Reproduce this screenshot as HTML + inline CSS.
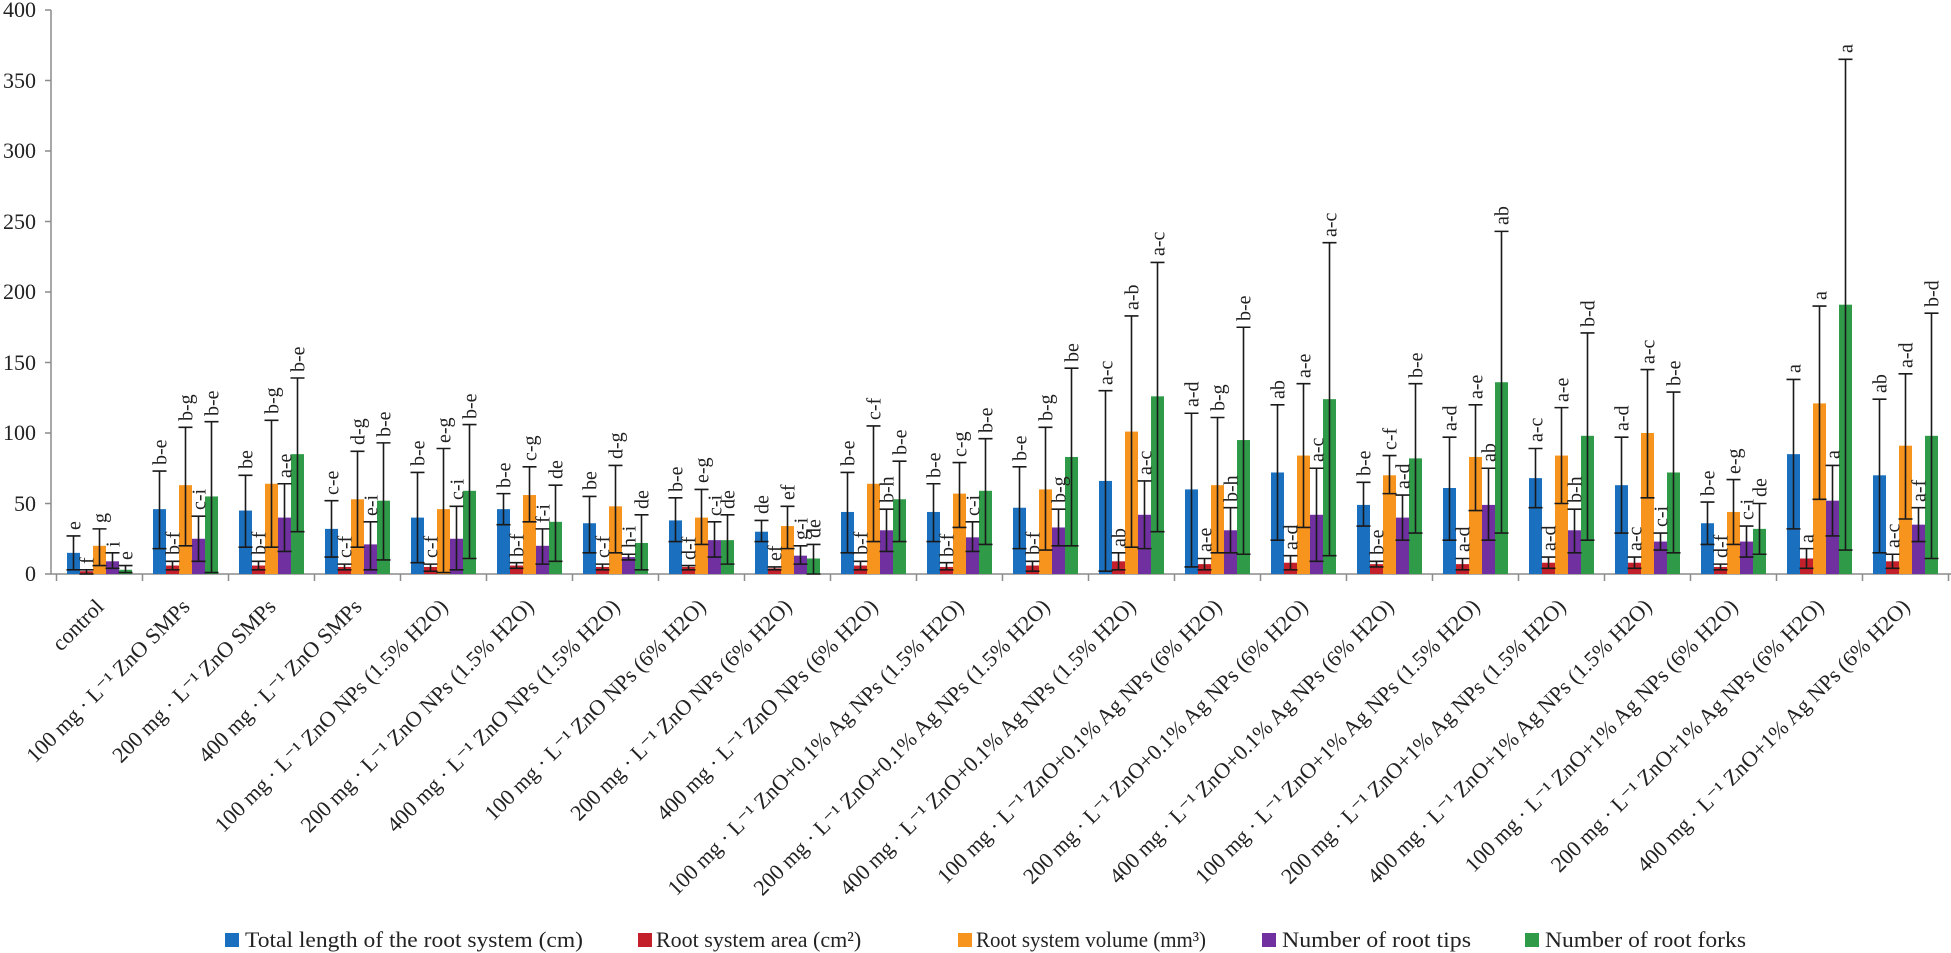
<!DOCTYPE html>
<html><head><meta charset="utf-8"><style>
html,body{margin:0;padding:0;background:#fff;}
svg{display:block;font-family:"Liberation Serif",serif;}
.b{fill:#1a70bf}.r{fill:#c4202b}.o{fill:#f7941d}.p{fill:#7030a0}.g{fill:#2f9a47}
.e{fill:none;stroke:#1a1a1a;stroke-width:1.6;vector-effect:non-scaling-stroke}
.l{font-size:20px;fill:#222}
.c{font-size:22px;fill:#222}
</style></head><body>
<svg width="1951" height="953" viewBox="0 0 1951 953" xmlns="http://www.w3.org/2000/svg">
<!-- axes -->
<g stroke="#8c8c8c" stroke-width="1.5" fill="none">
<path d="M51 10V574H1951"/>
<path d="M45 10H51M45 80.5H51M45 151H51M45 221.5H51M45 292H51M45 362.5H51M45 433H51M45 503.5H51M45 574H51"/>
<path d="M56.5 574v7M142.5 574v7M228.5 574v7M314.5 574v7M400.5 574v7M486.5 574v7M572.5 574v7M658.5 574v7M744.5 574v7M830.5 574v7M916.5 574v7M1002.5 574v7M1088.5 574v7M1174.5 574v7M1260.5 574v7M1346.5 574v7M1432.5 574v7M1518.5 574v7M1604.5 574v7M1690.5 574v7M1776.5 574v7M1862.5 574v7M1948.5 574v7"/>
</g>
<g class="c" text-anchor="end">
<text x="36" y="17">400</text><text x="36" y="88">350</text><text x="36" y="158">300</text><text x="36" y="229">250</text><text x="36" y="299">200</text><text x="36" y="370">150</text><text x="36" y="440">100</text><text x="36" y="511">50</text><text x="36" y="581">0</text>
</g>

<!-- bars: each group translate(center,574) scale(1,-1.41) -->
<g transform="translate(99.5,574) scale(1,-1.41)"><rect class="b" x="-32.5" y="0" width="13" height="15"/><rect class="r" x="-19.5" y="0" width="13" height="2"/><rect class="o" x="-6.5" y="0" width="13" height="20"/><rect class="p" x="6.5" y="0" width="13" height="9"/><rect class="g" x="19.5" y="0" width="13" height="3"/><path class="e" d="M-26 3V27M-33 3H-19M-33 27H-19M-13 0V3M-20 0H-6M-20 3H-6M0 6V32M-7 6H7M-7 32H7M13 4V15M6 4H20M6 15H20M26 1V6M19 1H33M19 6H33"/></g>
<g transform="translate(185.5,574) scale(1,-1.41)"><rect class="b" x="-32.5" y="0" width="13" height="46"/><rect class="r" x="-19.5" y="0" width="13" height="6"/><rect class="o" x="-6.5" y="0" width="13" height="63"/><rect class="p" x="6.5" y="0" width="13" height="25"/><rect class="g" x="19.5" y="0" width="13" height="55"/><path class="e" d="M-26 18V73M-33 18H-19M-33 73H-19M-13 3V9M-20 3H-6M-20 9H-6M0 20V104M-7 20H7M-7 104H7M13 9V41M6 9H20M6 41H20M26 1V108M19 1H33M19 108H33"/></g>
<g transform="translate(271.5,574) scale(1,-1.41)"><rect class="b" x="-32.5" y="0" width="13" height="45"/><rect class="r" x="-19.5" y="0" width="13" height="6"/><rect class="o" x="-6.5" y="0" width="13" height="64"/><rect class="p" x="6.5" y="0" width="13" height="40"/><rect class="g" x="19.5" y="0" width="13" height="85"/><path class="e" d="M-26 19V70M-33 19H-19M-33 70H-19M-13 3V9M-20 3H-6M-20 9H-6M0 19V109M-7 19H7M-7 109H7M13 16V64M6 16H20M6 64H20M26 30V139M19 30H33M19 139H33"/></g>
<g transform="translate(357.5,574) scale(1,-1.41)"><rect class="b" x="-32.5" y="0" width="13" height="32"/><rect class="r" x="-19.5" y="0" width="13" height="5"/><rect class="o" x="-6.5" y="0" width="13" height="53"/><rect class="p" x="6.5" y="0" width="13" height="21"/><rect class="g" x="19.5" y="0" width="13" height="52"/><path class="e" d="M-26 12V52M-33 12H-19M-33 52H-19M-13 3V7M-20 3H-6M-20 7H-6M0 19V87M-7 19H7M-7 87H7M13 3V37M6 3H20M6 37H20M26 10V93M19 10H33M19 93H33"/></g>
<g transform="translate(443.5,574) scale(1,-1.41)"><rect class="b" x="-32.5" y="0" width="13" height="40"/><rect class="r" x="-19.5" y="0" width="13" height="5"/><rect class="o" x="-6.5" y="0" width="13" height="46"/><rect class="p" x="6.5" y="0" width="13" height="25"/><rect class="g" x="19.5" y="0" width="13" height="59"/><path class="e" d="M-26 8V72M-33 8H-19M-33 72H-19M-13 2V7M-20 2H-6M-20 7H-6M0 1V89M-7 1H7M-7 89H7M13 3V48M6 3H20M6 48H20M26 11V106M19 11H33M19 106H33"/></g>
<g transform="translate(529.5,574) scale(1,-1.41)"><rect class="b" x="-32.5" y="0" width="13" height="46"/><rect class="r" x="-19.5" y="0" width="13" height="6"/><rect class="o" x="-6.5" y="0" width="13" height="56"/><rect class="p" x="6.5" y="0" width="13" height="20"/><rect class="g" x="19.5" y="0" width="13" height="37"/><path class="e" d="M-26 35V57M-33 35H-19M-33 57H-19M-13 4V8M-20 4H-6M-20 8H-6M0 37V76M-7 37H7M-7 76H7M13 7V32M6 7H20M6 32H20M26 9V63M19 9H33M19 63H33"/></g>
<g transform="translate(615.5,574) scale(1,-1.41)"><rect class="b" x="-32.5" y="0" width="13" height="36"/><rect class="r" x="-19.5" y="0" width="13" height="5"/><rect class="o" x="-6.5" y="0" width="13" height="48"/><rect class="p" x="6.5" y="0" width="13" height="12"/><rect class="g" x="19.5" y="0" width="13" height="22"/><path class="e" d="M-26 15V55M-33 15H-19M-33 55H-19M-13 3V7M-20 3H-6M-20 7H-6M0 15V77M-7 15H7M-7 77H7M13 10V14M6 10H20M6 14H20M26 3V42M19 3H33M19 42H33"/></g>
<g transform="translate(701.5,574) scale(1,-1.41)"><rect class="b" x="-32.5" y="0" width="13" height="38"/><rect class="r" x="-19.5" y="0" width="13" height="5"/><rect class="o" x="-6.5" y="0" width="13" height="40"/><rect class="p" x="6.5" y="0" width="13" height="24"/><rect class="g" x="19.5" y="0" width="13" height="24"/><path class="e" d="M-26 23V54M-33 23H-19M-33 54H-19M-13 3V6M-20 3H-6M-20 6H-6M0 21V60M-7 21H7M-7 60H7M13 12V37M6 12H20M6 37H20M26 7V42M19 7H33M19 42H33"/></g>
<g transform="translate(787.5,574) scale(1,-1.41)"><rect class="b" x="-32.5" y="0" width="13" height="30"/><rect class="r" x="-19.5" y="0" width="13" height="4"/><rect class="o" x="-6.5" y="0" width="13" height="34"/><rect class="p" x="6.5" y="0" width="13" height="13"/><rect class="g" x="19.5" y="0" width="13" height="11"/><path class="e" d="M-26 23V38M-33 23H-19M-33 38H-19M-13 3V5M-20 3H-6M-20 5H-6M0 18V48M-7 18H7M-7 48H7M13 7V20M6 7H20M6 20H20M26 0V21M19 0H33M19 21H33"/></g>
<g transform="translate(873.5,574) scale(1,-1.41)"><rect class="b" x="-32.5" y="0" width="13" height="44"/><rect class="r" x="-19.5" y="0" width="13" height="6"/><rect class="o" x="-6.5" y="0" width="13" height="64"/><rect class="p" x="6.5" y="0" width="13" height="31"/><rect class="g" x="19.5" y="0" width="13" height="53"/><path class="e" d="M-26 15V72M-33 15H-19M-33 72H-19M-13 3V9M-20 3H-6M-20 9H-6M0 23V105M-7 23H7M-7 105H7M13 16V46M6 16H20M6 46H20M26 23V80M19 23H33M19 80H33"/></g>
<g transform="translate(959.5,574) scale(1,-1.41)"><rect class="b" x="-32.5" y="0" width="13" height="44"/><rect class="r" x="-19.5" y="0" width="13" height="5"/><rect class="o" x="-6.5" y="0" width="13" height="57"/><rect class="p" x="6.5" y="0" width="13" height="26"/><rect class="g" x="19.5" y="0" width="13" height="59"/><path class="e" d="M-26 23V64M-33 23H-19M-33 64H-19M-13 3V8M-20 3H-6M-20 8H-6M0 33V79M-7 33H7M-7 79H7M13 16V37M6 16H20M6 37H20M26 21V96M19 21H33M19 96H33"/></g>
<g transform="translate(1045.5,574) scale(1,-1.41)"><rect class="b" x="-32.5" y="0" width="13" height="47"/><rect class="r" x="-19.5" y="0" width="13" height="6"/><rect class="o" x="-6.5" y="0" width="13" height="60"/><rect class="p" x="6.5" y="0" width="13" height="33"/><rect class="g" x="19.5" y="0" width="13" height="83"/><path class="e" d="M-26 18V76M-33 18H-19M-33 76H-19M-13 2V9M-20 2H-6M-20 9H-6M0 17V104M-7 17H7M-7 104H7M13 20V46M6 20H20M6 46H20M26 20V146M19 20H33M19 146H33"/></g>
<g transform="translate(1131.5,574) scale(1,-1.41)"><rect class="b" x="-32.5" y="0" width="13" height="66"/><rect class="r" x="-19.5" y="0" width="13" height="9"/><rect class="o" x="-6.5" y="0" width="13" height="101"/><rect class="p" x="6.5" y="0" width="13" height="42"/><rect class="g" x="19.5" y="0" width="13" height="126"/><path class="e" d="M-26 2V130M-33 2H-19M-33 130H-19M-13 3V15M-20 3H-6M-20 15H-6M0 19V183M-7 19H7M-7 183H7M13 18V66M6 18H20M6 66H20M26 30V221M19 30H33M19 221H33"/></g>
<g transform="translate(1217.5,574) scale(1,-1.41)"><rect class="b" x="-32.5" y="0" width="13" height="60"/><rect class="r" x="-19.5" y="0" width="13" height="7"/><rect class="o" x="-6.5" y="0" width="13" height="63"/><rect class="p" x="6.5" y="0" width="13" height="31"/><rect class="g" x="19.5" y="0" width="13" height="95"/><path class="e" d="M-26 5V114M-33 5H-19M-33 114H-19M-13 3V11M-20 3H-6M-20 11H-6M0 15V111M-7 15H7M-7 111H7M13 15V47M6 15H20M6 47H20M26 14V175M19 14H33M19 175H33"/></g>
<g transform="translate(1303.5,574) scale(1,-1.41)"><rect class="b" x="-32.5" y="0" width="13" height="72"/><rect class="r" x="-19.5" y="0" width="13" height="8"/><rect class="o" x="-6.5" y="0" width="13" height="84"/><rect class="p" x="6.5" y="0" width="13" height="42"/><rect class="g" x="19.5" y="0" width="13" height="124"/><path class="e" d="M-26 24V120M-33 24H-19M-33 120H-19M-13 3V13M-20 3H-6M-20 13H-6M0 33V135M-7 33H7M-7 135H7M13 9V75M6 9H20M6 75H20M26 13V235M19 13H33M19 235H33"/></g>
<g transform="translate(1389.5,574) scale(1,-1.41)"><rect class="b" x="-32.5" y="0" width="13" height="49"/><rect class="r" x="-19.5" y="0" width="13" height="7"/><rect class="o" x="-6.5" y="0" width="13" height="70"/><rect class="p" x="6.5" y="0" width="13" height="40"/><rect class="g" x="19.5" y="0" width="13" height="82"/><path class="e" d="M-26 34V65M-33 34H-19M-33 65H-19M-13 5V9M-20 5H-6M-20 9H-6M0 57V84M-7 57H7M-7 84H7M13 24V56M6 24H20M6 56H20M26 29V135M19 29H33M19 135H33"/></g>
<g transform="translate(1475.5,574) scale(1,-1.41)"><rect class="b" x="-32.5" y="0" width="13" height="61"/><rect class="r" x="-19.5" y="0" width="13" height="7"/><rect class="o" x="-6.5" y="0" width="13" height="83"/><rect class="p" x="6.5" y="0" width="13" height="49"/><rect class="g" x="19.5" y="0" width="13" height="136"/><path class="e" d="M-26 24V97M-33 24H-19M-33 97H-19M-13 3V11M-20 3H-6M-20 11H-6M0 45V120M-7 45H7M-7 120H7M13 24V75M6 24H20M6 75H20M26 29V243M19 29H33M19 243H33"/></g>
<g transform="translate(1561.5,574) scale(1,-1.41)"><rect class="b" x="-32.5" y="0" width="13" height="68"/><rect class="r" x="-19.5" y="0" width="13" height="8"/><rect class="o" x="-6.5" y="0" width="13" height="84"/><rect class="p" x="6.5" y="0" width="13" height="31"/><rect class="g" x="19.5" y="0" width="13" height="98"/><path class="e" d="M-26 47V89M-33 47H-19M-33 89H-19M-13 4V12M-20 4H-6M-20 12H-6M0 50V118M-7 50H7M-7 118H7M13 15V46M6 15H20M6 46H20M26 24V171M19 24H33M19 171H33"/></g>
<g transform="translate(1647.5,574) scale(1,-1.41)"><rect class="b" x="-32.5" y="0" width="13" height="63"/><rect class="r" x="-19.5" y="0" width="13" height="8"/><rect class="o" x="-6.5" y="0" width="13" height="100"/><rect class="p" x="6.5" y="0" width="13" height="23"/><rect class="g" x="19.5" y="0" width="13" height="72"/><path class="e" d="M-26 29V97M-33 29H-19M-33 97H-19M-13 4V12M-20 4H-6M-20 12H-6M0 54V145M-7 54H7M-7 145H7M13 17V29M6 17H20M6 29H20M26 15V129M19 15H33M19 129H33"/></g>
<g transform="translate(1733.5,574) scale(1,-1.41)"><rect class="b" x="-32.5" y="0" width="13" height="36"/><rect class="r" x="-19.5" y="0" width="13" height="5"/><rect class="o" x="-6.5" y="0" width="13" height="44"/><rect class="p" x="6.5" y="0" width="13" height="23"/><rect class="g" x="19.5" y="0" width="13" height="32"/><path class="e" d="M-26 21V51M-33 21H-19M-33 51H-19M-13 3V7M-20 3H-6M-20 7H-6M0 21V67M-7 21H7M-7 67H7M13 12V34M6 12H20M6 34H20M26 14V50M19 14H33M19 50H33"/></g>
<g transform="translate(1819.5,574) scale(1,-1.41)"><rect class="b" x="-32.5" y="0" width="13" height="85"/><rect class="r" x="-19.5" y="0" width="13" height="11"/><rect class="o" x="-6.5" y="0" width="13" height="121"/><rect class="p" x="6.5" y="0" width="13" height="52"/><rect class="g" x="19.5" y="0" width="13" height="191"/><path class="e" d="M-26 32V138M-33 32H-19M-33 138H-19M-13 4V18M-20 4H-6M-20 18H-6M0 53V190M-7 53H7M-7 190H7M13 27V77M6 27H20M6 77H20M26 17V365M19 17H33M19 365H33"/></g>
<g transform="translate(1905.5,574) scale(1,-1.41)"><rect class="b" x="-32.5" y="0" width="13" height="70"/><rect class="r" x="-19.5" y="0" width="13" height="9"/><rect class="o" x="-6.5" y="0" width="13" height="91"/><rect class="p" x="6.5" y="0" width="13" height="35"/><rect class="g" x="19.5" y="0" width="13" height="98"/><path class="e" d="M-26 15V124M-33 15H-19M-33 124H-19M-13 4V14M-20 4H-6M-20 14H-6M0 39V142M-7 39H7M-7 142H7M13 23V47M6 23H20M6 47H20M26 11V185M19 11H33M19 185H33"/></g>

<!-- significance labels -->
<g class="l">
<g transform="translate(99.5,0)"><text transform="translate(-19,530) rotate(-90)">e</text><text transform="translate(-6,564) rotate(-90)">f</text><text transform="translate(7,523) rotate(-90)">g</text><text transform="translate(20,547) rotate(-90)">i</text><text transform="translate(33,560) rotate(-90)">e</text></g>
<g transform="translate(185.5,0)"><text transform="translate(-19,465) rotate(-90)">b-e</text><text transform="translate(-6,555) rotate(-90)">b-f</text><text transform="translate(7,421) rotate(-90)">b-g</text><text transform="translate(20,510) rotate(-90)">c-i</text><text transform="translate(33,416) rotate(-90)">b-e</text></g>
<g transform="translate(271.5,0)"><text transform="translate(-19,469) rotate(-90)">be</text><text transform="translate(-6,555) rotate(-90)">b-f</text><text transform="translate(7,414) rotate(-90)">b-g</text><text transform="translate(20,478) rotate(-90)">a-e</text><text transform="translate(33,372) rotate(-90)">b-e</text></g>
<g transform="translate(357.5,0)"><text transform="translate(-19,495) rotate(-90)">c-e</text><text transform="translate(-6,558) rotate(-90)">c-f</text><text transform="translate(7,445) rotate(-90)">d-g</text><text transform="translate(20,516) rotate(-90)">e-i</text><text transform="translate(33,437) rotate(-90)">b-e</text></g>
<g transform="translate(443.5,0)"><text transform="translate(-19,466) rotate(-90)">b-e</text><text transform="translate(-6,558) rotate(-90)">c-f</text><text transform="translate(7,443) rotate(-90)">e-g</text><text transform="translate(20,500) rotate(-90)">c-i</text><text transform="translate(33,419) rotate(-90)">b-e</text></g>
<g transform="translate(529.5,0)"><text transform="translate(-19,488) rotate(-90)">b-e</text><text transform="translate(-6,557) rotate(-90)">b-f</text><text transform="translate(7,461) rotate(-90)">c-g</text><text transform="translate(20,523) rotate(-90)">f-i</text><text transform="translate(33,479) rotate(-90)">de</text></g>
<g transform="translate(615.5,0)"><text transform="translate(-19,490) rotate(-90)">be</text><text transform="translate(-6,558) rotate(-90)">c-f</text><text transform="translate(7,459) rotate(-90)">d-g</text><text transform="translate(20,548) rotate(-90)">h-i</text><text transform="translate(33,509) rotate(-90)">de</text></g>
<g transform="translate(701.5,0)"><text transform="translate(-19,492) rotate(-90)">b-e</text><text transform="translate(-6,560) rotate(-90)">d-f</text><text transform="translate(7,483) rotate(-90)">e-g</text><text transform="translate(20,516) rotate(-90)">c-i</text><text transform="translate(33,509) rotate(-90)">de</text></g>
<g transform="translate(787.5,0)"><text transform="translate(-19,514) rotate(-90)">de</text><text transform="translate(-6,561) rotate(-90)">ef</text><text transform="translate(7,500) rotate(-90)">ef</text><text transform="translate(20,540) rotate(-90)">g-i</text><text transform="translate(33,538) rotate(-90)">de</text></g>
<g transform="translate(873.5,0)"><text transform="translate(-19,466) rotate(-90)">b-e</text><text transform="translate(-6,555) rotate(-90)">b-f</text><text transform="translate(7,420) rotate(-90)">c-f</text><text transform="translate(20,503) rotate(-90)">b-h</text><text transform="translate(33,455) rotate(-90)">b-e</text></g>
<g transform="translate(959.5,0)"><text transform="translate(-19,478) rotate(-90)">b-e</text><text transform="translate(-6,557) rotate(-90)">b-f</text><text transform="translate(7,457) rotate(-90)">c-g</text><text transform="translate(20,516) rotate(-90)">c-i</text><text transform="translate(33,433) rotate(-90)">b-e</text></g>
<g transform="translate(1045.5,0)"><text transform="translate(-19,461) rotate(-90)">b-e</text><text transform="translate(-6,555) rotate(-90)">b-f</text><text transform="translate(7,421) rotate(-90)">b-g</text><text transform="translate(20,503) rotate(-90)">b-g</text><text transform="translate(33,362) rotate(-90)">be</text></g>
<g transform="translate(1131.5,0)"><text transform="translate(-19,385) rotate(-90)">a-c</text><text transform="translate(-6,547) rotate(-90)">ab</text><text transform="translate(7,310) rotate(-90)">a-b</text><text transform="translate(20,475) rotate(-90)">a-c</text><text transform="translate(33,256) rotate(-90)">a-c</text></g>
<g transform="translate(1217.5,0)"><text transform="translate(-19,407) rotate(-90)">a-d</text><text transform="translate(-6,552) rotate(-90)">a-e</text><text transform="translate(7,411) rotate(-90)">b-g</text><text transform="translate(20,502) rotate(-90)">b-h</text><text transform="translate(33,321) rotate(-90)">b-e</text></g>
<g transform="translate(1303.5,0)"><text transform="translate(-19,399) rotate(-90)">ab</text><text transform="translate(-6,550) rotate(-90)">a-d</text><text transform="translate(7,378) rotate(-90)">a-e</text><text transform="translate(20,462) rotate(-90)">a-c</text><text transform="translate(33,237) rotate(-90)">a-c</text></g>
<g transform="translate(1389.5,0)"><text transform="translate(-19,476) rotate(-90)">b-e</text><text transform="translate(-6,555) rotate(-90)">b-e</text><text transform="translate(7,450) rotate(-90)">c-f</text><text transform="translate(20,489) rotate(-90)">a-d</text><text transform="translate(33,378) rotate(-90)">b-e</text></g>
<g transform="translate(1475.5,0)"><text transform="translate(-19,431) rotate(-90)">a-d</text><text transform="translate(-6,552) rotate(-90)">a-d</text><text transform="translate(7,399) rotate(-90)">a-e</text><text transform="translate(20,462) rotate(-90)">ab</text><text transform="translate(33,225) rotate(-90)">ab</text></g>
<g transform="translate(1561.5,0)"><text transform="translate(-19,442) rotate(-90)">a-c</text><text transform="translate(-6,551) rotate(-90)">a-d</text><text transform="translate(7,402) rotate(-90)">a-e</text><text transform="translate(20,503) rotate(-90)">b-h</text><text transform="translate(33,327) rotate(-90)">b-d</text></g>
<g transform="translate(1647.5,0)"><text transform="translate(-19,431) rotate(-90)">a-d</text><text transform="translate(-6,551) rotate(-90)">a-c</text><text transform="translate(7,364) rotate(-90)">a-c</text><text transform="translate(20,527) rotate(-90)">c-i</text><text transform="translate(33,386) rotate(-90)">b-e</text></g>
<g transform="translate(1733.5,0)"><text transform="translate(-19,496) rotate(-90)">b-e</text><text transform="translate(-6,558) rotate(-90)">d-f</text><text transform="translate(7,474) rotate(-90)">e-g</text><text transform="translate(20,520) rotate(-90)">c-i</text><text transform="translate(33,497) rotate(-90)">de</text></g>
<g transform="translate(1819.5,0)"><text transform="translate(-19,373) rotate(-90)">a</text><text transform="translate(-6,543) rotate(-90)">a</text><text transform="translate(7,300) rotate(-90)">a</text><text transform="translate(20,459) rotate(-90)">a</text><text transform="translate(33,53) rotate(-90)">a</text></g>
<g transform="translate(1905.5,0)"><text transform="translate(-19,393) rotate(-90)">ab</text><text transform="translate(-6,548) rotate(-90)">a-c</text><text transform="translate(7,368) rotate(-90)">a-d</text><text transform="translate(20,502) rotate(-90)">a-f</text><text transform="translate(33,307) rotate(-90)">b-d</text></g>
</g>

<!-- category labels -->
<g class="c" text-anchor="end">
<text transform="translate(105,608) rotate(-45)">control</text>
<text transform="translate(191,608) rotate(-45)">100 mg · L⁻¹ ZnO SMPs</text>
<text transform="translate(277,608) rotate(-45)">200 mg · L⁻¹ ZnO SMPs</text>
<text transform="translate(363,608) rotate(-45)">400 mg · L⁻¹ ZnO SMPs</text>
<text transform="translate(449,608) rotate(-45)">100 mg · L⁻¹ ZnO NPs (1.5% H2O)</text>
<text transform="translate(535,608) rotate(-45)">200 mg · L⁻¹ ZnO NPs (1.5% H2O)</text>
<text transform="translate(621,608) rotate(-45)">400 mg · L⁻¹ ZnO NPs (1.5% H2O)</text>
<text transform="translate(707,608) rotate(-45)">100 mg · L⁻¹ ZnO NPs (6% H2O)</text>
<text transform="translate(793,608) rotate(-45)">200 mg · L⁻¹ ZnO NPs (6% H2O)</text>
<text transform="translate(879,608) rotate(-45)">400 mg · L⁻¹ ZnO NPs (6% H2O)</text>
<text transform="translate(965,608) rotate(-45)">100 mg · L⁻¹ ZnO+0.1% Ag NPs (1.5% H2O)</text>
<text transform="translate(1051,608) rotate(-45)">200 mg · L⁻¹ ZnO+0.1% Ag NPs (1.5% H2O)</text>
<text transform="translate(1137,608) rotate(-45)">400 mg · L⁻¹ ZnO+0.1% Ag NPs (1.5% H2O)</text>
<text transform="translate(1223,608) rotate(-45)">100 mg · L⁻¹ ZnO+0.1% Ag NPs (6% H2O)</text>
<text transform="translate(1309,608) rotate(-45)">200 mg · L⁻¹ ZnO+0.1% Ag NPs (6% H2O)</text>
<text transform="translate(1395,608) rotate(-45)">400 mg · L⁻¹ ZnO+0.1% Ag NPs (6% H2O)</text>
<text transform="translate(1481,608) rotate(-45)">100 mg · L⁻¹ ZnO+1% Ag NPs (1.5% H2O)</text>
<text transform="translate(1567,608) rotate(-45)">200 mg · L⁻¹ ZnO+1% Ag NPs (1.5% H2O)</text>
<text transform="translate(1653,608) rotate(-45)">400 mg · L⁻¹ ZnO+1% Ag NPs (1.5% H2O)</text>
<text transform="translate(1739,608) rotate(-45)">100 mg · L⁻¹ ZnO+1% Ag NPs (6% H2O)</text>
<text transform="translate(1825,608) rotate(-45)">200 mg · L⁻¹ ZnO+1% Ag NPs (6% H2O)</text>
<text transform="translate(1911,608) rotate(-45)">400 mg · L⁻¹ ZnO+1% Ag NPs (6% H2O)</text>
</g>

<!-- legend -->
<g class="c">
<rect class="b" x="225" y="933" width="14" height="14"/><text x="245" y="947" textLength="338" lengthAdjust="spacingAndGlyphs">Total length of the root system (cm)</text>
<rect class="r" x="638" y="933" width="14" height="14"/><text x="656" y="947">Root system area (cm²)</text>
<rect class="o" x="958" y="933" width="14" height="14"/><text x="976" y="947" textLength="230" lengthAdjust="spacingAndGlyphs">Root system volume (mm³)</text>
<rect class="p" x="1262" y="933" width="14" height="14"/><text x="1282" y="947" textLength="189" lengthAdjust="spacingAndGlyphs">Number of root tips</text>
<rect class="g" x="1525" y="933" width="14" height="14"/><text x="1545" y="947" textLength="201" lengthAdjust="spacingAndGlyphs">Number of root forks</text>
</g>
</svg>
</body></html>
